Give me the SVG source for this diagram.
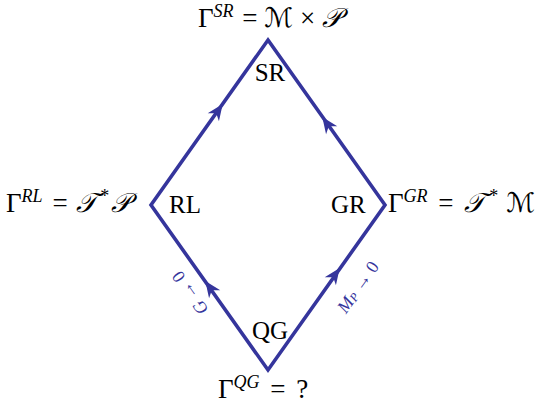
<svg xmlns="http://www.w3.org/2000/svg" width="539" height="406" viewBox="0 0 539 406">
<style>
.lbl{font-family:"Liberation Serif","DejaVu Serif",serif;font-size:27px;fill:#000}
.sup{font-style:italic;font-size:18px}
.scr{font-family:"DejaVu Serif","DejaVu Sans","Noto Sans",serif;font-style:italic}
.node{font-family:"Liberation Serif",serif;font-size:25px;fill:#000}
.edge{fill:none;stroke:#35359c;stroke-width:3.6;stroke-linejoin:miter}
.elbl{font-family:"Liberation Serif",serif;font-size:18px;fill:#35359c}
</style>
<defs>
<marker id="arr" markerUnits="userSpaceOnUse" markerWidth="20" markerHeight="20" viewBox="-14 -8 16 16" refX="0" refY="0" orient="auto">
<path d="M1,0 L-12,-5.5 L-8,0 L-12,5.5 Z" fill="#35359c"/>
</marker>
</defs>
<g id="connectors">
<path class="edge" d="M268,40 L385,205 L268,370 L151,205 Z"/>
<path id="e-rl-sr" d="M151,205 L222,105 L268,40" fill="none" stroke="none" marker-mid="url(#arr)"/>
<path id="e-gr-sr" d="M385,205 L323,118 L268,40" fill="none" stroke="none" marker-mid="url(#arr)"/>
<path id="e-qg-rl" d="M268,370 L206,282 L151,205" fill="none" stroke="none" marker-mid="url(#arr)"/>
<path id="e-qg-gr" d="M268,370 L339,269 L385,205" fill="none" stroke="none" marker-mid="url(#arr)"/>
<text class="elbl" transform="translate(190,293) rotate(-125.3)" text-anchor="middle" dominant-baseline="central"><tspan font-style="italic">G</tspan> → 0</text>
<text class="elbl" transform="translate(358,287) rotate(-54.7)" text-anchor="middle" dominant-baseline="central"><tspan font-style="italic">M</tspan><tspan font-style="italic" font-size="12px" dy="3">P</tspan><tspan dy="-3"> → 0</tspan></text>
</g>
<g id="SR">
<text class="node" x="270" y="81" text-anchor="middle">SR</text>
<text class="lbl" x="198" y="27">Γ<tspan class="sup" dy="-10">SR</tspan><tspan dy="10" dx="2"> = </tspan><tspan class="scr">ℳ</tspan> × <tspan class="scr">𝒫</tspan></text>
</g>
<g id="RL">
<text class="node" x="169" y="213">RL</text>
<text class="lbl" x="6" y="212">Γ<tspan class="sup" dy="-10">RL</tspan><tspan dy="10" dx="3"> = </tspan><tspan class="scr" dx="2">𝒯</tspan><tspan font-size="18px" dy="-10" dx="3">*</tspan><tspan class="scr" dy="10" dx="2">𝒫</tspan></text>
</g>
<g id="GR">
<text class="node" x="331" y="213">GR</text>
<text class="lbl" x="388" y="212">Γ<tspan class="sup" dy="-10">GR</tspan><tspan dy="10" dx="4"> = </tspan><tspan class="scr" dx="4">𝒯</tspan><tspan font-size="18px" dy="-10" dx="4">*</tspan><tspan class="scr" dy="10" dx="8">ℳ</tspan></text>
</g>
<g id="QG">
<text class="node" x="270" y="339" text-anchor="middle">QG</text>
<text class="lbl" x="218" y="398">Γ<tspan class="sup" dy="-10">QG</tspan><tspan dy="10" dx="4"> = </tspan><tspan dx="4">?</tspan></text>
</g>
</svg>
